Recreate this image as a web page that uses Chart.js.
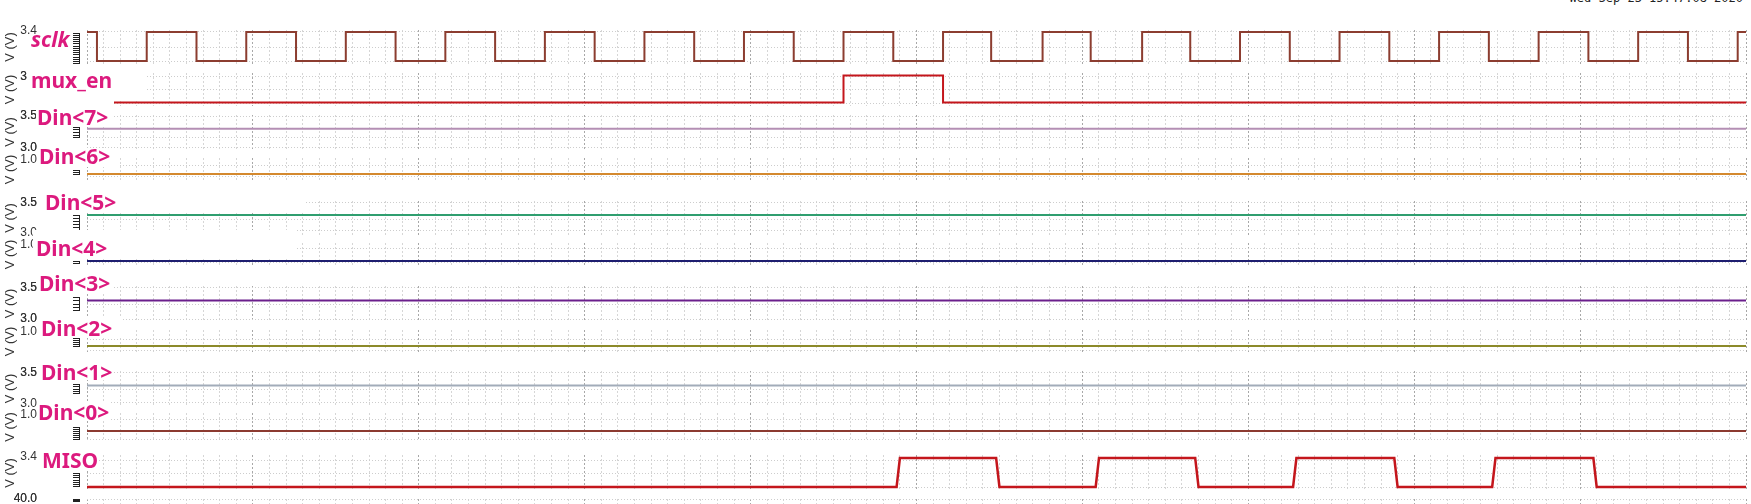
<!DOCTYPE html>
<html>
<head>
<meta charset="utf-8">
<title>sclk / MISO waveforms</title>
<script src="https://cdn.jsdelivr.net/npm/chart.js@4.4.0/dist/chart.umd.min.js"></script>
<style>
	html,body{margin:0;padding:0;background:#fff;}
	body{position:relative;width:1751px;height:504px;overflow:hidden;}
	.strip{position:absolute;left:0;z-index:1;line-height:0;}
	.strip canvas{display:block;}
	.mask{position:absolute;background:#fff;z-index:2;}
	.sig{position:absolute;z-index:3;color:#dc1a7e;font-family:'Noto Sans',sans-serif;font-weight:bold;font-size:21px;line-height:20px;white-space:nowrap;}
	#stamp{position:absolute;right:8px;top:-9px;font:12px 'DejaVu Sans Mono',monospace;color:#222;z-index:3;}
</style>
</head>
<body>
<div id="stamp">Wed Sep 23 15:47:08 2020</div>
<script>
(function(){
	'use strict';

	// time axis: one unit = one major grid division
	var timeMin = 0;
	var timeMax = 10;

	// sclk: time of each edge and level held after it
	var sclkTimes = [0, 0.06, 0.36, 0.66, 0.96, 1.26, 1.56, 1.86, 2.16, 2.46, 2.76, 3.06, 3.36, 3.66, 3.96, 4.26, 4.56, 4.86,
		5.16, 5.45, 5.76, 6.05, 6.36, 6.65, 6.95, 7.25, 7.55, 7.85, 8.15, 8.45, 8.75, 9.05, 9.35, 9.65, 9.95, 10];
	var sclkLevels = [3.3, 0, 3.3, 0, 3.3, 0, 3.3, 0, 3.3, 0, 3.3, 0, 3.3, 0, 3.3, 0, 3.3, 0,
		3.3, 0, 3.3, 0, 3.3, 0, 3.3, 0, 3.3, 0, 3.3, 0, 3.3, 0, 3.3, 0, 3.3, 3.3];

	var muxEnTimes = [0, 4.56, 5.16, 10];
	var muxEnLevels = [0, 3.6, 0, 0];

	var dinNames = ['Din<7>', 'Din<6>', 'Din<5>', 'Din<4>', 'Din<3>', 'Din<2>', 'Din<1>', 'Din<0>'];
	var dinLevels = [3.3, 0, 3.3, 0, 3.3, 0, 3.3, 0];

	// MISO edges are slightly sloped, so each edge has two points
	var misoTimes = [0, 4.88, 4.90, 5.48, 5.50, 6.08, 6.10, 6.68, 6.70, 7.27, 7.29, 7.88, 7.90, 8.47, 8.49, 9.08, 9.10, 10];
	var misoLevels = [0, 0, 3.3, 3.3, 0, 0, 3.3, 3.3, 0, 0, 3.3, 3.3, 0, 0, 3.3, 3.3, 0, 0];

	// per-strip y tick labels, gridlines and minor tick marks (volts)
	var sclkTicks = {labels:[[3.4, '3.4']], grid:[3.3, 1.5, -0.1], minor:[3.2, 3.0, 2.75, 2.5, 2.25, 2.0, 1.75, 1.5, 1.25, 1.0, 0.75, 0.5, 0.25, 0, -0.25]};
	var muxEnTicks = {labels:[[3.4, '3.4']], grid:[3.4, 1.7, -0.07], minor:[]};
	var dinTicks = [
		{labels:[[3.5, '3.5'], [3.0, '3.0']], grid:[3.5, 3.17, 3.0], minor:[3.33, 3.29, 3.25, 3.21, 3.17]},
		{labels:[[1.0, '1.0']], grid:[0.64, -0.21], minor:[0.28, 0.14, 0]},
		{labels:[[3.5, '3.5'], [3.0, '3.0']], grid:[3.5, 3.22, 3.05], minor:[3.3, 3.25, 3.2, 3.15, 3.1, 3.05]},
		{labels:[[1.0, '1.0']], grid:[0.81, -0.12], minor:[0, -0.1]},
		{labels:[[3.5, '3.5'], [3.0, '3.0']], grid:[3.5, 3.23, 3.0], minor:[3.35, 3.3, 3.25, 3.2, 3.15]},
		{labels:[[1.0, '1.0']], grid:[0.43, -0.29], minor:[0.57, 0.43, 0.29, 0.14, 0]},
		{labels:[[3.5, '3.5'], [3.0, '3.0']], grid:[3.5, 3.23, 3.02], minor:[3.33, 3.29, 3.25, 3.21, 3.17]},
		{labels:[[1.0, '1.0']], grid:[0.69, -0.56], minor:[0.25, 0.12, 0, -0.12, -0.25, -0.37, -0.5]}
	];
	var misoTicks = {labels:[[3.4, '3.4']], grid:[3.07, 1.59, 0], minor:[1.6, 1.35, 1.1, 0.85, 0.6, 0.35, 0.1]};
	var lowerTicks = {labels:[[40, '40.0']], grid:[40], minor:[40, 39, 38]};

	// layout of the strips on the page (pixels) and their y ranges
	var layout = {
		sclk: {top:30, bottom:64, min:-0.35, max:3.52},
		mux_en: {top:73, bottom:106, min:-0.467, max:3.933},
		din: [
			{top:115, bottom:149, min:2.984, max:3.516},
			{top:158, bottom:181, min:-0.5, max:1.143},
			{top:201, bottom:235, min:2.967, max:3.533},
			{top:243, bottom:266, min:-0.3125, max:1.125},
			{top:286, bottom:321, min:2.968, max:3.532},
			{top:330, bottom:353, min:-0.5, max:1.143},
			{top:371, bottom:406, min:2.968, max:3.532},
			{top:413, bottom:441, min:-0.625, max:1.125}
		],
		miso: {top:455, bottom:491, min:-0.455, max:3.641},
		lower: {top:499, bottom:540, min:0, max:40}
	};

	var colors = {
		sclk:'#8c3d30', mux_en:'#c4161c', miso:'#c4161c',
		din:['#b48fb4', '#d4892e', '#2f9e6f', '#1e1e70', '#6b1f8c', '#8c8a2a', '#a2acb9', '#8c3a30']
	};

	// magenta signal names pasted over the plot: [text, left, top, italic]
	var names = [
		['sclk', 31, 29, true],
		['mux_en', 31, 70, false],
		['Din<7>', 37, 107, false],
		['Din<6>', 39, 146, false],
		['Din<5>', 45, 192, false],
		['Din<4>', 36, 238, false],
		['Din<3>', 39, 273, false],
		['Din<2>', 41, 318, false],
		['Din<1>', 41, 362, false],
		['Din<0>', 38, 402, false],
		['MISO', 42, 450, false]
	];
	// white boxes behind those names: [left, top, width, height]
	var masks = [
		[28, 66, 119, 34], [86, 99, 28, 7],
		[36, 108, 77, 18],
		[38, 148, 80, 19],
		[44, 190, 261, 22],
		[33, 230, 263, 28],
		[38, 272, 75, 20],
		[40, 318, 83, 19],
		[40, 362, 70, 18],
		[37, 402, 73, 19],
		[40, 448, 57, 22]
	];

	Chart.defaults.font.family = "'Liberation Sans', Arial, sans-serif";
	Chart.defaults.color = '#333';

	// vertical grid every 0.1, darker every 1.0
	var xGrid = [];
	for(var i = 0; i <= 100; i++){
		xGrid.push(i / 10);
	}
	function isMajor(v){
		return Math.abs(v - Math.round(v)) < 1e-6;
	}

	var minorTickPlugin = {
		id:'minorTicks',
		afterDraw:function(chart, args, opts){
			var vals = opts.values || [];
			if(!vals.length) return;
			var y = chart.scales.y;
			var c = chart.ctx;
			var ps = vals.map(function(v){ return Math.round(y.getPixelForValue(v)) + 0.5; });
			c.save();
			c.strokeStyle = '#222';
			c.lineWidth = 1;
			c.beginPath();
			ps.forEach(function(p){
				c.moveTo(73, p);
				c.lineTo(80, p);
			});
			c.moveTo(79.5, Math.min.apply(null, ps));
			c.lineTo(79.5, Math.max.apply(null, ps));
			c.stroke();
			c.restore();
		}
	};

	function points(times, levels){
		return times.map(function(t, k){ return {x:t, y:levels[k]}; });
	}

	function strip(box, ticks, datasets){
		var padT = 10, padB = 10;
		var h = box.bottom - box.top + padT + padB;
		var wrap = document.createElement('div');
		wrap.className = 'strip';
		wrap.style.top = (box.top - padT) + 'px';
		wrap.style.width = '1751px';
		wrap.style.height = h + 'px';
		var cv = document.createElement('canvas');
		wrap.appendChild(cv);
		document.body.appendChild(wrap);

		var yVals = ticks.grid.concat(ticks.labels.map(function(l){ return l[0]; }));
		yVals.sort(function(a, b){ return a - b; });
		function isGrid(v){
			return ticks.grid.some(function(g){ return Math.abs(g - v) < 1e-9; });
		}
		function labelOf(v){
			var hit = ticks.labels.filter(function(l){ return Math.abs(l[0] - v) < 1e-9; });
			return hit.length ? hit[0][1] : '';
		}

		new Chart(cv, {
			type:'line',
			data:{datasets:datasets},
			options:{
				responsive:true,
				maintainAspectRatio:false,
				animation:false,
				events:[],
				layout:{padding:{top:padT, bottom:padB, left:0, right:5}},
				elements:{point:{radius:0}, line:{tension:0}},
				plugins:{legend:{display:false}, tooltip:{enabled:false}, minorTicks:{values:ticks.minor}},
				scales:{
					x:{
						type:'linear', position:'bottom', min:timeMin, max:timeMax,
						afterBuildTicks:function(s){ s.ticks = xGrid.map(function(v){ return {value:v}; }); },
						ticks:{display:false, autoSkip:false},
						grid:{
							drawTicks:false,
							color:function(ctx){ return ctx.tick && isMajor(ctx.tick.value) ? '#a8a8a8' : '#d6d6d6'; }
						},
						border:{display:false, dash:[2, 2]}
					},
					y:{
						type:'linear', position:'left', min:box.min, max:box.max,
						afterBuildTicks:function(s){ s.ticks = yVals.map(function(v){ return {value:v}; }); },
						afterFit:function(s){ s.width = 87; },
						grid:{
							drawTicks:true, tickLength:50, tickColor:'rgba(0,0,0,0)',
							color:function(ctx){ return ctx.tick && isGrid(ctx.tick.value) ? '#cdcdcd' : 'rgba(0,0,0,0)'; }
						},
						border:{display:false, dash:[1, 2]},
						ticks:{
							autoSkip:false, padding:0, color:'#333',
							font:{size:12},
							callback:function(v){ return labelOf(v); }
						},
						title:{display:true, text:'V (V)', color:'#333', font:{size:13}, padding:{top:3, bottom:0}}
					}
				}
			},
			plugins:[minorTickPlugin]
		});
	}

	function line(data, color, width, stepped){
		return {data:data, borderColor:color, borderWidth:width, stepped:stepped, fill:false};
	}

	strip(layout.sclk, sclkTicks, [line(points(sclkTimes, sclkLevels), colors.sclk, 2, true)]);
	strip(layout.mux_en, muxEnTicks, [line(points(muxEnTimes, muxEnLevels), colors.mux_en, 2, true)]);
	dinNames.forEach(function(n, k){
		strip(layout.din[k], dinTicks[k], [line(points([timeMin, timeMax], [dinLevels[k], dinLevels[k]]), colors.din[k], 2, false)]);
	});
	strip(layout.miso, misoTicks, [line(points(misoTimes, misoLevels), colors.miso, 2.5, false)]);
	strip(layout.lower, lowerTicks, []);

	masks.forEach(function(m){
		var d = document.createElement('div');
		d.className = 'mask';
		d.style.left = m[0] + 'px';
		d.style.top = m[1] + 'px';
		d.style.width = m[2] + 'px';
		d.style.height = m[3] + 'px';
		document.body.appendChild(d);
	});
	names.forEach(function(n){
		var d = document.createElement('div');
		d.className = 'sig';
		d.textContent = n[0];
		d.style.left = n[1] + 'px';
		d.style.top = n[2] + 'px';
		if(n[3]) d.style.fontStyle = 'italic';
		document.body.appendChild(d);
	});
})();
</script>
</body>
</html>
